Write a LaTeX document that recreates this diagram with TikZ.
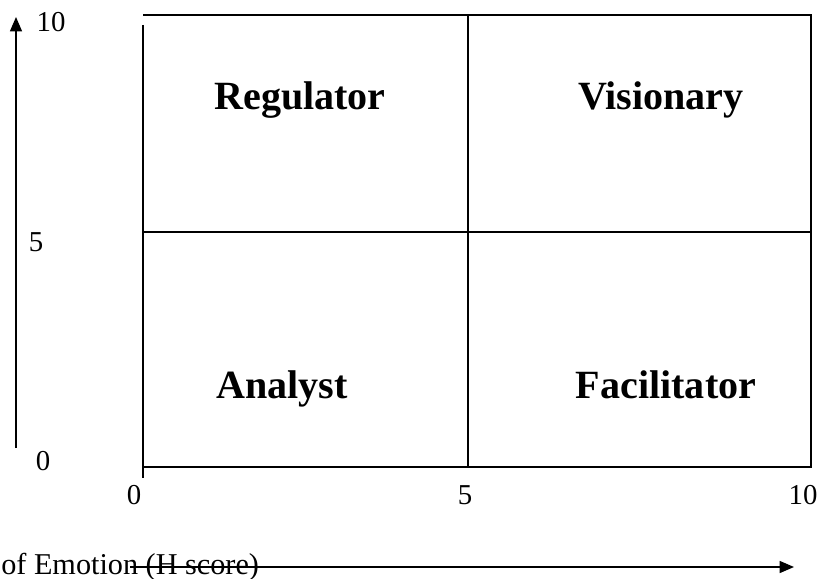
\documentclass[tikz,border=0pt]{standalone}
\usepackage{fontspec}
\setmainfont{Liberation Serif}
\usetikzlibrary{arrows.meta,positioning}
\tikzset{grid line/.style={line width=1.4pt}, axis/.style={line width=1.1pt, -{Triangle[length=0.36cm,width=0.3cm]}},
  quad/.style={font=\fontsize{28.5}{30}\selectfont\bfseries, anchor=base, inner sep=0pt},
  tick/.style={font=\fontsize{20.5}{22}\selectfont, anchor=base, inner sep=0pt}}

\begin{document}
\begin{tikzpicture}[x=0.025cm,y=-0.025cm]
    \useasboundingbox (0,0) rectangle (820,578);
    % corners of the square
    \coordinate (TL) at (143,15);
    \coordinate (TR) at (811,15);
    \coordinate (BL) at (143,467);
    \coordinate (BR) at (811,467);
    \coordinate (TM) at (468,15);
    \coordinate (BM) at (468,467);
    \coordinate (ML) at (143,232);
    \coordinate (MR) at (811,232);
    \draw[grid line] (TL) -- (TR) -- (BR) -- (BL);
    \draw[grid line] (143,25) -- (143,478);
    \draw[grid line] (TM) -- (BM);
    \draw[grid line] (ML) -- (MR);
    % quadrant names
    \node[quad] (reg) at (300,109) {Regulator};
    \node[quad] (vis) at (661,109) {Visionary};
    \node[quad] (ana) at (282,398) {Analyst};
    \node[quad] (fac) at (666,398) {Facilitator};
    % vertical axis
    \coordinate (y0) at (16,448);
    \coordinate (y1) at (16,17);
    \draw[axis] (y0) -- (y1);
    \node[tick] (ten) at (51,32) {10};
    \node[tick] (five) at (36,251) {5};
    \node[tick] (zero) at (43,470) {0};
    % horizontal axis
    \node[tick] (h0) at (134,504) {0};
    \node[tick] (h5) at (465,504) {5};
    \node[tick] (h10) at (803,504) {10};
    \node[tick, anchor=base west, font=\fontsize{21.5}{23}\selectfont] (hlab) at (1,574) {of Emotion (H score)};
    \coordinate (x0) at (130,567);
    \coordinate (x1) at (794,567);
    \draw[axis] (x0) -- (x1);
\end{tikzpicture}
\end{document}
